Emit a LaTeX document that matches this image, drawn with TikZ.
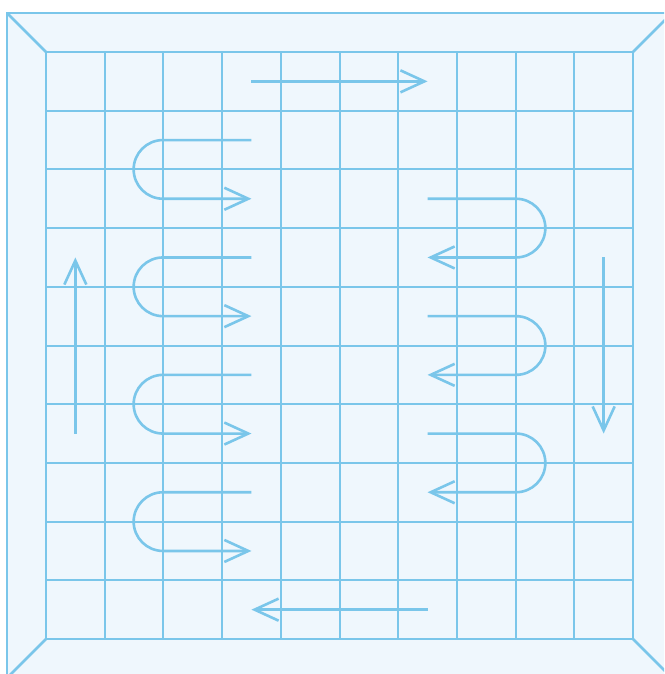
\documentclass[tikz,border=0pt]{standalone}
\usetikzlibrary{arrows.meta}
\definecolor{gridblue}{RGB}{122,198,234}
\definecolor{paleblue}{RGB}{239,247,253}
\tikzset{
  gridline/.style={draw=gridblue, line width=2.6pt},
  flow/.style={draw=gridblue, line width=2.6pt, line join=round, -{Straight Barb[length=24pt,width=22pt,line width=2.6pt]}},
}
\begin{document}
\begin{tikzpicture}[x=1pt,y=-1pt]
\useasboundingbox (0,0) rectangle (664,674);
\clip (0,0) rectangle (664,674);
\def\cs{58.7}
% outer frame
\path[gridline, fill=paleblue] (7,13) rectangle (672,678);
\coordinate (o1) at (7,13);
\coordinate (o2) at (672,13);
\coordinate (o3) at (7,678);
\coordinate (o4) at (672,678);
\coordinate (i1) at (46,52);
\coordinate (i2) at (633,52);
\coordinate (i3) at (46,639);
\coordinate (i4) at (633,639);
\draw[gridline] (o1) -- (i1) (o2) -- (i2) (o3) -- (i3) (o4) -- (i4);
% grid
\foreach \x in {46,105,163,222,281,340,398,457,516,574,633}
  \draw[gridline] (\x,52) -- (\x,639);
\foreach \y in {52,111,169,228,287,346,404,463,522,580,639}
  \draw[gridline] (46,\y) -- (633,\y);
% top and bottom arrows
\coordinate (ta) at ({46+3.5*\cs},{52+0.5*\cs});
\coordinate (tb) at ({46+6.5*\cs},{52+0.5*\cs});
\draw[flow] (ta) -- (tb);
\coordinate (ba) at ({46+6.5*\cs},{52+9.5*\cs});
\coordinate (bb) at ({46+3.5*\cs},{52+9.5*\cs});
\draw[flow] (ba) -- (bb);
% side arrows
\coordinate (la) at ({46+0.5*\cs},{52+6.5*\cs});
\coordinate (lb) at ({46+0.5*\cs},{52+3.5*\cs});
\draw[flow] (la) -- (lb);
\coordinate (ra) at ({46+9.5*\cs},{52+3.5*\cs});
\coordinate (rb) at ({46+9.5*\cs},{52+6.5*\cs});
\draw[flow] (ra) -- (rb);
% left serpentines
\foreach \r in {1.5,3.5,5.5,7.5} {
  \draw[flow] ({46+3.5*\cs},{52+\r*\cs}) -- (163,{52+\r*\cs})
    arc (270:90:{0.5*\cs}) -- ({46+3.5*\cs},{52+(\r+1)*\cs});
}
% right serpentines
\foreach \r in {2.5,4.5,6.5} {
  \draw[flow] ({46+6.5*\cs},{52+\r*\cs}) -- (516,{52+\r*\cs})
    arc (-90:90:{0.5*\cs}) -- ({46+6.5*\cs},{52+(\r+1)*\cs});
}
\end{tikzpicture}
\end{document}
